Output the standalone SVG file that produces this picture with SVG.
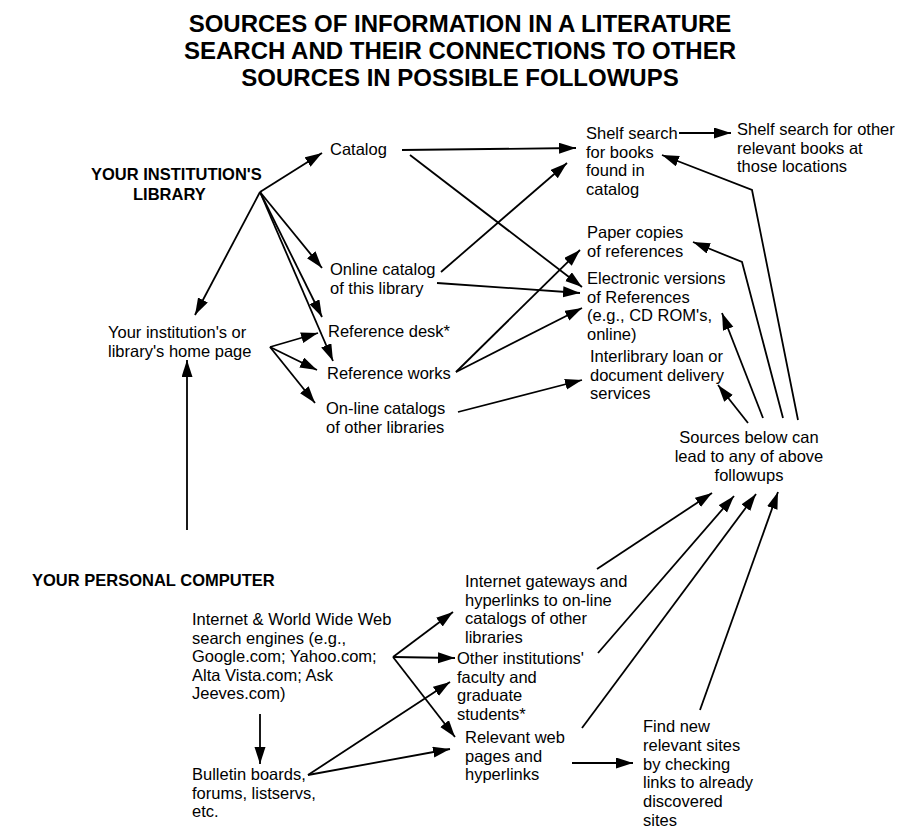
<svg xmlns="http://www.w3.org/2000/svg" width="917" height="830" viewBox="0 0 917 830">
<defs>
<marker id="ah" markerUnits="userSpaceOnUse" markerWidth="18" markerHeight="12" refX="17" refY="5.5" orient="auto">
<path d="M0,0 L17,5.5 L0,11 z" fill="#000"/>
</marker>
<style>
.t{font-family:"Liberation Sans",Arial,sans-serif;font-size:16.5px;fill:#000}
.b{font-family:"Liberation Sans",Arial,sans-serif;font-size:16.5px;font-weight:bold;fill:#000}
.h{font-family:"Liberation Sans",Arial,sans-serif;font-size:24px;font-weight:bold;fill:#000;text-anchor:middle}
.c{text-anchor:middle}
#connectors line,#connectors polyline{stroke:#000;stroke-width:1.8;fill:none;marker-end:url(#ah)}
</style>
</defs>
<rect width="917" height="830" fill="#fff"/>
<g id="title">
<text class="h"><tspan x="460" y="32">SOURCES OF INFORMATION IN A LITERATURE</tspan><tspan x="460" y="59">SEARCH AND THEIR CONNECTIONS TO OTHER</tspan><tspan x="460" y="86">SOURCES IN POSSIBLE FOLLOWUPS</tspan></text>
</g>
<g id="library"><text class="b"><tspan x="91" y="180">YOUR INSTITUTION'S</tspan><tspan x="133" y="200">LIBRARY</tspan></text></g>
<g id="pc"><text class="b" x="32" y="586">YOUR PERSONAL COMPUTER</text></g>
<g id="catalog"><text class="t" x="330" y="155">Catalog</text></g>
<g id="online"><text class="t"><tspan x="330" y="275">Online catalog</tspan><tspan x="330" y="293.5">of this library</tspan></text></g>
<g id="refdesk"><text class="t" x="328" y="337">Reference desk*</text></g>
<g id="refworks"><text class="t" x="327" y="379">Reference works</text></g>
<g id="otherlib"><text class="t"><tspan x="326" y="414">On-line catalogs</tspan><tspan x="326" y="432.5">of other libraries</tspan></text></g>
<g id="home"><text class="t"><tspan x="108" y="338">Your institution's or</tspan><tspan x="108" y="356.5">library's home page</tspan></text></g>
<g id="shelf"><text class="t"><tspan x="586" y="139">Shelf search</tspan><tspan x="586" y="157.5">for books</tspan><tspan x="586" y="176">found in</tspan><tspan x="586" y="194.5">catalog</tspan></text></g>
<g id="shelf2"><text class="t"><tspan x="737" y="135">Shelf search for other</tspan><tspan x="737" y="153.5">relevant books at</tspan><tspan x="737" y="172">those locations</tspan></text></g>
<g id="paper"><text class="t"><tspan x="587" y="238">Paper copies</tspan><tspan x="587" y="256.5">of references</tspan></text></g>
<g id="elec"><text class="t"><tspan x="587" y="284">Electronic versions</tspan><tspan x="587" y="302.5">of References</tspan><tspan x="587" y="321">(e.g., CD ROM's,</tspan><tspan x="587" y="339.5">online)</tspan></text></g>
<g id="ill"><text class="t"><tspan x="590" y="362">Interlibrary loan or</tspan><tspan x="590" y="380.5">document delivery</tspan><tspan x="590" y="399">services</tspan></text></g>
<g id="sources"><text class="t c"><tspan x="749" y="443">Sources below can</tspan><tspan x="749" y="462">lead to any of above</tspan><tspan x="749" y="481">followups</tspan></text></g>
<g id="search"><text class="t"><tspan x="192" y="625">Internet &amp; World Wide Web</tspan><tspan x="192" y="643.5">search engines (e.g.,</tspan><tspan x="192" y="662">Google.com; Yahoo.com;</tspan><tspan x="192" y="680.5">Alta Vista.com; Ask</tspan><tspan x="192" y="699">Jeeves.com)</tspan></text></g>
<g id="bulletin"><text class="t"><tspan x="192" y="780">Bulletin boards,</tspan><tspan x="192" y="798.5">forums, listservs,</tspan><tspan x="192" y="817">etc.</tspan></text></g>
<g id="gateways"><text class="t"><tspan x="465" y="587">Internet gateways and</tspan><tspan x="465" y="605.5">hyperlinks to on-line</tspan><tspan x="465" y="624">catalogs of other</tspan><tspan x="465" y="642.5">libraries</tspan></text></g>
<g id="otherinst"><text class="t"><tspan x="457" y="664">Other institutions'</tspan><tspan x="457" y="682.5">faculty and</tspan><tspan x="457" y="701">graduate</tspan><tspan x="457" y="719.5">students*</tspan></text></g>
<g id="relevant"><text class="t"><tspan x="465" y="743">Relevant web</tspan><tspan x="465" y="761.5">pages and</tspan><tspan x="465" y="780">hyperlinks</tspan></text></g>
<g id="findnew"><text class="t"><tspan x="643" y="732">Find new</tspan><tspan x="643" y="750.8">relevant sites</tspan><tspan x="643" y="769.6">by checking</tspan><tspan x="643" y="788.4">links to already</tspan><tspan x="643" y="807.2">discovered</tspan><tspan x="643" y="826">sites</tspan></text></g>
<g id="connectors">
<line x1="260" y1="192" x2="322" y2="153"/>
<line x1="260" y1="192" x2="195" y2="315"/>
<line x1="260" y1="192" x2="322" y2="268"/>
<line x1="260" y1="192" x2="322" y2="317"/>
<line x1="260" y1="192" x2="333" y2="361"/>
<line x1="270" y1="347" x2="318" y2="333"/>
<line x1="270" y1="347" x2="317" y2="370"/>
<line x1="270" y1="347" x2="315" y2="403"/>
<line x1="187" y1="530" x2="187" y2="360"/>
<line x1="402" y1="150" x2="576" y2="148"/>
<line x1="410" y1="155" x2="582" y2="287"/>
<line x1="441" y1="272" x2="567" y2="163"/>
<line x1="437" y1="283" x2="580" y2="293"/>
<line x1="456" y1="372" x2="580" y2="250"/>
<line x1="456" y1="372" x2="582" y2="308"/>
<line x1="458" y1="412" x2="582" y2="380"/>
<line x1="679" y1="133" x2="731" y2="133"/>
<polyline points="798,420 752,190 662,155"/>
<polyline points="783,418 742,262 693,242"/>
<line x1="763" y1="418" x2="722" y2="313"/>
<line x1="748" y1="423" x2="718" y2="385"/>
<line x1="597" y1="569" x2="712" y2="493"/>
<line x1="598" y1="653" x2="734" y2="496"/>
<line x1="582" y1="728" x2="756" y2="494"/>
<line x1="700" y1="710" x2="778" y2="492"/>
<line x1="393" y1="657" x2="453" y2="612"/>
<line x1="393" y1="657" x2="455" y2="658"/>
<line x1="393" y1="657" x2="455" y2="737"/>
<line x1="308" y1="775" x2="450" y2="682"/>
<line x1="308" y1="775" x2="450" y2="749"/>
<line x1="260" y1="714" x2="260" y2="764"/>
<line x1="572" y1="763" x2="633" y2="763"/>
</g>
</svg>
